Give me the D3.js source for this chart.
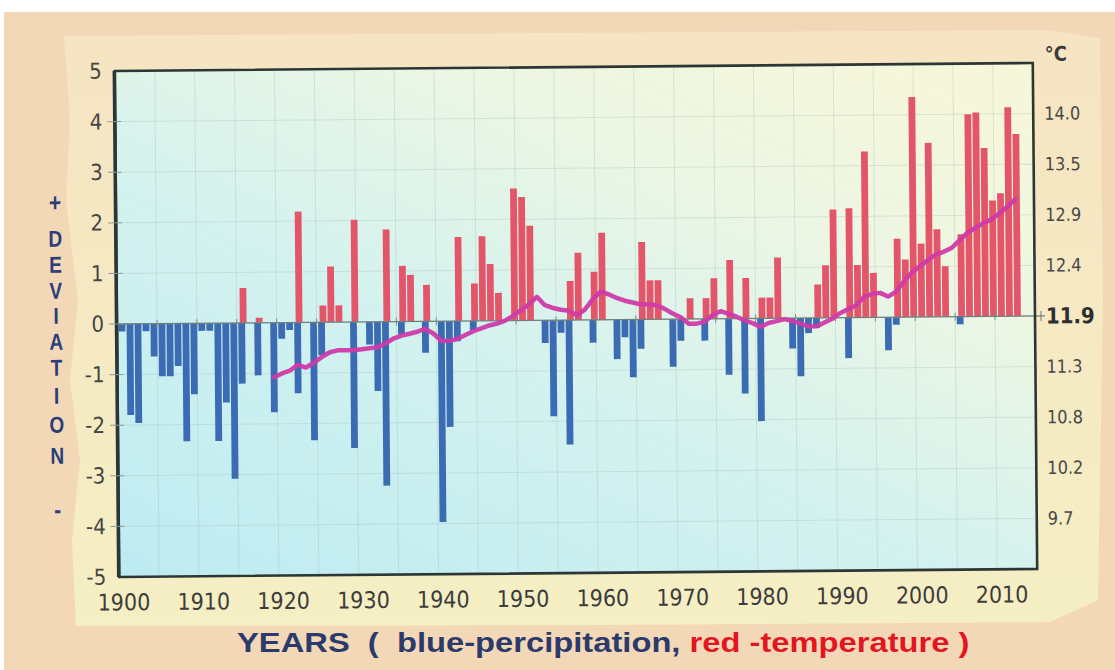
<!DOCTYPE html>
<html>
<head>
<meta charset="utf-8">
<script src="https://cdn.jsdelivr.net/npm/d3@7/dist/d3.min.js"></script>
<style>
  html, body { margin: 0; padding: 0; background: #ffffff; }
  svg { display: block; }
  .narrow { font-family: "Liberation Sans Narrow", "DejaVu Sans Condensed", "Liberation Sans", Arial, sans-serif; }
</style>
</head>
<body>
<svg id="chart" width="1115" height="670"></svg>
<script>
// ---------------- DATA ----------------
const years = d3.range(1900, 2013);   // 1900 .. 2012, one bar slot per year

// blue bars: precipitation deviation (null = no bar)
const precipitation = [
  -0.15, -1.80, -1.96, -0.15, -0.65, -1.04, -1.04, -0.84, -2.33, -1.40,   // 1900-1909
  -0.15, -0.15, -2.33, -1.57, -3.08, -1.20,  null, -1.04,  null, -1.77,   // 1910-1919
  -0.32, -0.15, -1.40,  null, -2.33, -0.65,  null,  null,  null, -2.49,   // 1920-1929
   null, -0.45, -1.37, -3.24,  null, -0.25,  null,  null, -0.62,  null,   // 1930-1939
  -3.97, -2.09, -0.40,  null, -0.18,  null,  null,  null,  null,  null,   // 1940-1949
   null,  null,  null, -0.45, -1.90, -0.25, -2.46,  null,  null, -0.45,   // 1950-1959
   null,  null, -0.78, -0.35, -1.14, -0.58,  null,  null,  null, -0.94,   // 1960-1969
  -0.43,  null,  null, -0.43,  null,  null, -1.11,  null, -1.48,  null,   // 1970-1979
  -2.03,  null,  null,  null, -0.60, -1.15, -0.30, -0.20,  null,  null,   // 1980-1989
   null, -0.80,  null,  null,  null,  null, -0.65, -0.15,  null,  null,   // 1990-1999
   null,  null,  null,  null,  null, -0.15,  null,  null,  null,  null,   // 2000-2009
   null,  null,  null                                                       // 2010-2012
];

// red bars: temperature deviation (null = no bar)
const temperature = [
   null,  null,  null,  null,  null,  null,  null,  null,  null,  null,   // 1900-1909
   null,  null,  null,  null,  null,  0.69,  null,  0.10,  null,  null,   // 1910-1919
   null,  null,  2.19,  null,  null,  0.33,  1.10,  0.33,  null,  2.02,   // 1920-1929
   null,  null,  null,  1.82,  null,  1.10,  0.92,  null,  0.72,  null,   // 1930-1939
   null,  null,  1.66,  null,  0.74,  1.67,  1.12,  0.55,  null,  2.61,   // 1940-1949
   2.44,  1.87,  null,  null,  null,  null,  0.77,  1.33,  null,  0.95,   // 1950-1959
   1.72,  null,  null,  null,  null,  1.53,  0.77,  0.77,  null,  null,   // 1960-1969
   null,  0.41,  null,  0.41,  0.80,  null,  1.16,  null,  0.80,  null,   // 1970-1979
   0.41,  0.41,  1.20,  null,  null,  null,  null,  0.66,  1.04,  2.14,   // 1980-1989
   null,  2.16,  1.04,  3.28,  0.88,  null,  null,  1.55,  1.14,  4.35,   // 1990-1999
   1.45,  3.44,  1.73,  1.00,  null,  1.63,  4.00,  4.03,  3.33,  2.29,   // 2000-2009
   2.43,  4.13,  3.60                                                       // 2010-2012
];

// magenta line: smoothed mean temperature, °C (right axis), 1919-2012
const trendStart = 1919;
const trendTemp = [
  11.27,                                                                   // 1919
  11.31, 11.34, 11.40, 11.37, 11.42, 11.48, 11.53, 11.55, 11.55, 11.55,   // 1920-1929
  11.56, 11.57, 11.58, 11.62, 11.67, 11.70, 11.72, 11.74, 11.77, 11.72,   // 1930-1939
  11.64, 11.64, 11.66, 11.70, 11.74, 11.77, 11.80, 11.82, 11.85, 11.90,   // 1940-1949
  11.96, 12.02, 12.10, 12.01, 11.98, 11.96, 11.95, 11.90, 11.96, 12.07,   // 1950-1959
  12.15, 12.12, 12.08, 12.05, 12.03, 12.01, 12.01, 12.00, 11.96, 11.91,   // 1960-1969
  11.87, 11.80, 11.80, 11.82, 11.89, 11.93, 11.90, 11.87, 11.83, 11.80,   // 1970-1979
  11.76, 11.80, 11.82, 11.84, 11.82, 11.79, 11.76, 11.76, 11.80, 11.84,   // 1980-1989
  11.90, 11.94, 11.98, 12.07, 12.10, 12.11, 12.07, 12.12, 12.23, 12.32,   // 1990-1999
  12.39, 12.45, 12.51, 12.54, 12.58, 12.66, 12.74, 12.79, 12.84, 12.88,   // 2000-2009
  12.94, 13.01, 13.09                                                      // 2010-2012
];

// axis tick labels
const xTickYears = [1900, 1910, 1920, 1930, 1940, 1950, 1960, 1970, 1980, 1990, 2000, 2010];
const devTicks = [5, 4, 3, 2, 1, 0, -1, -2, -3, -4, -5];
const tempTickDevs = [4, 3, 2, 1, 0, -1, -2, -3, -4];
const tempTickLabels = ["14.0", "13.5", "12.9", "12.4", "11.9", "11.3", "10.8", "10.2", "9.7"];
const sideLetters = ["+", "D", "E", "V", "I", "A", "T", "I", "O", "N", "-"];

// ---------------- DRAW ----------------
const svg = d3.select("#chart");
const W = 1115, H = 670;
const L = 117, R = 1035, T = 67, B = 573;

const defs = svg.append("defs");
const bgGrad = defs.append("linearGradient").attr("id", "plotbg")
  .attr("x1", "0").attr("y1", "1").attr("x2", "0.85").attr("y2", "0");
bgGrad.append("stop").attr("offset", "0").attr("stop-color", "#bdebf2");
bgGrad.append("stop").attr("offset", "0.45").attr("stop-color", "#d3f2ef");
bgGrad.append("stop").attr("offset", "0.75").attr("stop-color", "#ebf6e4");
bgGrad.append("stop").attr("offset", "1").attr("stop-color", "#f6f7da");

const paperGrad = defs.append("linearGradient").attr("id", "paper")
  .attr("x1", "0").attr("y1", "0").attr("x2", "0").attr("y2", "1");
paperGrad.append("stop").attr("offset", "0").attr("stop-color", "#f6e4c2");
paperGrad.append("stop").attr("offset", "1").attr("stop-color", "#f5efc4");

// paper backgrounds
svg.append("rect").attr("width", W).attr("height", H).attr("fill", "#ffffff");
svg.append("rect").attr("x", 4).attr("y", 12).attr("width", W - 4).attr("height", H - 12).attr("fill", "#f3d8b8");
svg.append("path")
  .attr("d", "M64,36 L560,33 L1045,30 L1100,38 L1103,300 L1098,600 L1050,622 L600,625 L76,626 L72,540 L80,460 L70,380 L78,300 L66,200 L70,120 Z")
  .attr("fill", "url(#paper)");

const g = svg.append("g").attr("transform", "rotate(-0.5, 576, 320)");

const x = d3.scaleLinear().domain([1900, 2015]).range([L, R]);
const y = d3.scaleLinear().domain([-5, 5]).range([B, T]);
const yT = d3.scaleLinear().domain([11.85 - 5 * 0.5375, 11.85 + 5 * 0.5375]).range([B, T]);
const slot = 0.62;     // bar centre inside its year slot
const bw = 6.8;

// plot background
g.append("rect").attr("x", L).attr("y", T).attr("width", R - L).attr("height", B - T).attr("fill", "url(#plotbg)");

// grid
const grid = g.append("g").attr("stroke", "#a9bcbc").attr("stroke-opacity", 0.35).attr("stroke-width", 1);
grid.selectAll("line.v").data(d3.range(1905, 2015, 5)).join("line")
  .attr("x1", d => x(d)).attr("x2", d => x(d)).attr("y1", T).attr("y2", B);
grid.selectAll("line.h").data(d3.range(-4, 5)).join("line")
  .attr("x1", L).attr("x2", R).attr("y1", d => y(d)).attr("y2", d => y(d));

// blue bars
g.append("g").selectAll("rect").data(years.map((yr, i) => ({ yr, v: precipitation[i] })).filter(d => d.v !== null))
  .join("rect")
  .attr("x", d => x(d.yr + slot) - bw / 2)
  .attr("y", y(0))
  .attr("width", bw)
  .attr("height", d => y(d.v) - y(0))
  .attr("fill", "#3a6bb3");

// red bars
g.append("g").selectAll("rect").data(years.map((yr, i) => ({ yr, v: temperature[i] })).filter(d => d.v !== null))
  .join("rect")
  .attr("x", d => x(d.yr + slot) - bw / 2 + 1.5)
  .attr("y", d => y(d.v))
  .attr("width", bw)
  .attr("height", d => y(0) - y(d.v))
  .attr("fill", "#e3566a");

// zero line with minor ticks
g.append("line").attr("x1", L).attr("x2", R + 10).attr("y1", y(0)).attr("y2", y(0))
  .attr("stroke", "#6f8080").attr("stroke-width", 1.3);
g.append("g").selectAll("line").data(d3.range(1905, 2020, 5)).join("line")
  .attr("x1", d => x(d)).attr("x2", d => x(d)).attr("y1", y(0) - 4).attr("y2", y(0) + 4)
  .attr("stroke", "#7d8c8c").attr("stroke-width", 1);

// trend line
const trendData = trendTemp.map((t, i) => ({ yr: trendStart + i, t }));
g.append("path").datum(trendData)
  .attr("d", d3.line().x(d => x(d.yr + slot)).y(d => yT(d.t)))
  .attr("fill", "none").attr("stroke", "#cf3aa8").attr("stroke-width", 4.5)
  .attr("stroke-linejoin", "round").attr("stroke-linecap", "round").attr("opacity", 0.95);

// frame
g.append("rect").attr("x", L).attr("y", T).attr("width", R - L).attr("height", B - T)
  .attr("fill", "none").attr("stroke", "#2c3636").attr("stroke-width", 2.6);
g.append("line").attr("x1", L - 0.5).attr("x2", L - 0.5).attr("y1", T).attr("y2", B)
  .attr("stroke", "#2c3636").attr("stroke-width", 3.5);

// left axis
const leftAxis = g.append("g").attr("transform", `translate(${L},0)`)
  .call(d3.axisLeft(y).tickValues(devTicks).tickFormat(d => d).tickSize(0).tickPadding(13));
leftAxis.select(".domain").remove();
leftAxis.selectAll("text").attr("class", "narrow").style("font-size", "22px").attr("fill", "#454545");
g.append("g").selectAll("line").data(devTicks.filter(d => d !== 5 && d !== -5)).join("line")
  .attr("x1", L - 8).attr("x2", L + 6).attr("y1", d => y(d)).attr("y2", d => y(d))
  .attr("stroke", "#8a9a9a").attr("stroke-width", 1);

// right axis
const rightAxis = g.append("g").attr("transform", `translate(${R},0)`)
  .call(d3.axisRight(y).tickValues(tempTickDevs).tickFormat((d, i) => tempTickLabels[i]).tickSize(0).tickPadding(11));
rightAxis.select(".domain").remove();
rightAxis.selectAll("text").attr("class", "narrow")
  .style("font-size", d => d === 0 ? "22px" : "18px")
  .style("font-weight", d => d === 0 ? "bold" : "normal")
  .attr("fill", d => d === 0 ? "#2e2e2e" : "#474747");
g.append("line").attr("x1", R + 6).attr("x2", R + 6).attr("y1", y(0) - 5).attr("y2", y(0) + 5)
  .attr("stroke", "#777").attr("stroke-width", 1);
g.append("text").attr("class", "narrow").attr("x", R + 12).attr("y", T - 2)
  .style("font-size", "20px").style("font-weight", "bold").attr("fill", "#3a3a3a").text("°C");

// bottom axis labels
const bottomAxis = g.append("g").attr("transform", `translate(4,${B})`)
  .call(d3.axisBottom(x).tickValues(xTickYears).tickFormat(d => d).tickSize(0).tickPadding(17));
bottomAxis.select(".domain").remove();
bottomAxis.selectAll("text").attr("class", "narrow").style("font-size", "23px").attr("fill", "#3c3c3c");

// vertical "+ DEVIATION -"
const letterY = [198, 234, 260, 286, 311, 337, 363, 391, 420, 451, 505];
g.append("g").selectAll("text").data(sideLetters).join("text")
  .attr("transform", (d, i) => `translate(56,${letterY[i]}) scale(0.95,1.15)`)
  .attr("text-anchor", "middle").attr("dominant-baseline", "central")
  .style("font-family", "'Liberation Sans', Arial, sans-serif")
  .style("font-weight", "bold").style("font-size", d => (d === "+" || d === "-") ? "22px" : "20px")
  .attr("fill", "#2b3d7a")
  .text(d => d);

// title
const title = svg.append("text")
  .style("font-family", "'Liberation Sans', Arial, sans-serif")
  .style("font-weight", "bold").style("font-size", "28px");
title.append("tspan").attr("fill", "#2b3a6b").attr("xml:space", "preserve").text("YEARS  (  blue-percipitation, ");
title.append("tspan").attr("fill", "#e3161f").text("red -temperature )");
const tw = title.node().getComputedTextLength();
title.attr("transform", `translate(237,652) scale(${733 / tw},1)`);
</script>
</body>
</html>
